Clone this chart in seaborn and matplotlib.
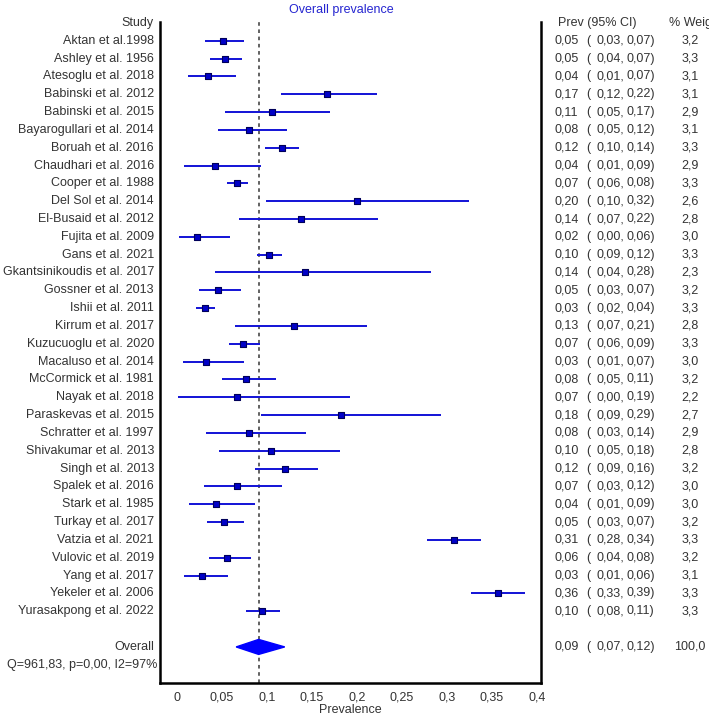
import numpy as np
import pandas as pd
import matplotlib
matplotlib.use("Agg")
import matplotlib.pyplot as plt
import seaborn as sns
from matplotlib.patches import Polygon

studies = [
    "Aktan et al.1998", "Ashley et al. 1956", "Atesoglu et al. 2018",
    "Babinski et al. 2012", "Babinski et al. 2015", "Bayarogullari et al. 2014",
    "Boruah et al. 2016", "Chaudhari et al. 2016", "Cooper et al. 1988",
    "Del Sol et al. 2014", "El-Busaid et al. 2012", "Fujita et al. 2009",
    "Gans et al. 2021", "Gkantsinikoudis et al. 2017", "Gossner et al. 2013",
    "Ishii et al. 2011", "Kirrum et al. 2017", "Kuzucuoglu et al. 2020",
    "Macaluso et al. 2014", "McCormick et al. 1981", "Nayak et al. 2018",
    "Paraskevas et al. 2015", "Schratter et al. 1997", "Shivakumar et al. 2013",
    "Singh et al. 2013", "Spalek et al. 2016", "Stark et al. 1985",
    "Turkay et al. 2017", "Vatzia et al. 2021", "Vulovic et al. 2019",
    "Yang et al. 2017", "Yekeler et al. 2006", "Yurasakpong et al. 2022",
]

# point estimates and CI ends as drawn
prev = [0.051, 0.054, 0.035, 0.167, 0.106, 0.080, 0.117, 0.042, 0.067,
        0.200, 0.138, 0.023, 0.102, 0.143, 0.046, 0.031, 0.130, 0.074,
        0.033, 0.077, 0.067, 0.183, 0.080, 0.105, 0.120, 0.067, 0.044,
        0.052, 0.308, 0.056, 0.028, 0.357, 0.095]
ci_lo = [0.031, 0.037, 0.013, 0.116, 0.054, 0.046, 0.098, 0.008, 0.056,
         0.099, 0.069, 0.003, 0.089, 0.043, 0.025, 0.021, 0.065, 0.058,
         0.007, 0.050, 0.001, 0.094, 0.033, 0.047, 0.087, 0.030, 0.014,
         0.034, 0.278, 0.036, 0.008, 0.327, 0.077]
ci_hi = [0.075, 0.073, 0.066, 0.223, 0.170, 0.122, 0.136, 0.094, 0.079,
         0.325, 0.224, 0.059, 0.117, 0.283, 0.071, 0.043, 0.211, 0.093,
         0.075, 0.110, 0.192, 0.294, 0.144, 0.181, 0.157, 0.117, 0.087,
         0.075, 0.338, 0.082, 0.057, 0.387, 0.115]

# printed table values
tab_prev = [0.05, 0.05, 0.04, 0.17, 0.11, 0.08, 0.12, 0.04, 0.07, 0.20, 0.14,
            0.02, 0.10, 0.14, 0.05, 0.03, 0.13, 0.07, 0.03, 0.08, 0.07, 0.18,
            0.08, 0.10, 0.12, 0.07, 0.04, 0.05, 0.31, 0.06, 0.03, 0.36, 0.10]
tab_lo = [0.03, 0.04, 0.01, 0.12, 0.05, 0.05, 0.10, 0.01, 0.06, 0.10, 0.07,
          0.00, 0.09, 0.04, 0.03, 0.02, 0.07, 0.06, 0.01, 0.05, 0.00, 0.09,
          0.03, 0.05, 0.09, 0.03, 0.01, 0.03, 0.28, 0.04, 0.01, 0.33, 0.08]
tab_hi = [0.07, 0.07, 0.07, 0.22, 0.17, 0.12, 0.14, 0.09, 0.08, 0.32, 0.22,
          0.06, 0.12, 0.28, 0.07, 0.04, 0.21, 0.09, 0.07, 0.11, 0.19, 0.29,
          0.14, 0.18, 0.16, 0.12, 0.09, 0.07, 0.34, 0.08, 0.06, 0.39, 0.11]
weights = [3.2, 3.3, 3.1, 3.1, 2.9, 3.1, 3.3, 2.9, 3.3, 2.6, 2.8, 3.0, 3.3,
           2.3, 3.2, 3.3, 2.8, 3.3, 3.0, 3.2, 2.2, 2.7, 2.9, 2.8, 3.2, 3.0,
           3.0, 3.2, 3.3, 3.2, 3.1, 3.3, 3.3]

overall = [0.091, 0.066, 0.120]       # estimate, lower, upper (diamond)
overall_tab = [0.09, 0.07, 0.12, 100.0]
overall_line = 0.0915
het_text = "Q=961,83, p=0,00, I2=97%"
x_ticks = [0, 0.05, 0.1, 0.15, 0.2, 0.25, 0.3, 0.35, 0.4]
x_ticklabels = ["0", "0,05", "0,1", "0,15", "0,2", "0,25", "0,3", "0,35", "0,4"]


def fmt(v, n=2):
    return f"{v:.{n}f}".replace(".", ",")


sns.set_style("white")
plt.rcParams["font.family"] = ["Liberation Sans", "DejaVu Sans"]
plt.rcParams["font.size"] = 9

df = pd.DataFrame({"study": studies, "prev": prev, "lo": ci_lo, "hi": ci_hi})
df["row"] = np.arange(len(df))

fig = plt.figure(figsize=(7.09, 7.21), dpi=100)
ax = fig.add_axes([160 / 709, 1 - 683.3 / 721, 380.7 / 709, 661.6 / 721])

line_col = "#1212d6"
txt_col = "#333333"

ax.axvline(overall_line, color="#555555", lw=1.3, ls=(0, (2, 2)), zorder=1)
ax.hlines(df["row"], df["lo"], df["hi"], color=line_col, lw=1.4, zorder=2)
sns.scatterplot(data=df, x="prev", y="row", marker="s", s=22, color="#0000c8",
                edgecolor="#00005a", linewidth=0.8, zorder=3, ax=ax, legend=False)

ov_row = len(df) + 1
est, low, up = overall
ax.add_patch(Polygon([(low, ov_row), (est, ov_row - 0.42), (up, ov_row), (est, ov_row + 0.42)],
                     closed=True, facecolor="#0000ff", edgecolor="#0000ff", zorder=3))

ax.set_xlim(-0.0186, 0.4044)
ax.set_ylim(36.04, -1.066)
ax.set_yticks([])
ax.set_xticks(x_ticks)
ax.set_xticklabels(x_ticklabels, color=txt_col)
ax.tick_params(axis="x", length=3, width=0.8, color="#888888", pad=3, labelsize=9)
ax.set_xlabel("Prevalence", color=txt_col, fontsize=9, labelpad=0)
ax.set_ylabel("")

for side in ["left", "right", "bottom"]:
    ax.spines[side].set_color("black")
    ax.spines[side].set_linewidth(1.8)
ax.spines["top"].set_visible(False)

tr = ax.get_yaxis_transform()
kw = dict(transform=tr, va="center", color=txt_col, fontsize=9, clip_on=False)

ax.text(-0.0158, -1, "Study", ha="right", **kw)
ax.text(1.0446, -1, "Prev (95% CI)", ha="left", **kw)
ax.text(1.337, -1, "% Weight", ha="left", **kw)

rows = list(df["row"]) + [ov_row]
labels = studies + ["Overall"]
t_prev = tab_prev + [overall_tab[0]]
t_lo = tab_lo + [overall_tab[1]]
t_hi = tab_hi + [overall_tab[2]]
t_w = weights + [overall_tab[3]]
for r, lab, p, l, h, w in zip(rows, labels, t_prev, t_lo, t_hi, t_w):
    ax.text(-0.0158, r, lab, ha="right", **kw)
    ax.text(1.0358, r, fmt(p), ha="left", **kw)
    ax.text(1.1208, r, "(", ha="left", **kw)
    ax.text(1.1453, r, fmt(l) + ",", ha="left", **kw)
    ax.text(1.2259, r, fmt(h) + ")", ha="left", **kw)
    ax.text(1.3922, r, fmt(w, 1), ha="center", **kw)

ax.text(-0.008, ov_row + 1, het_text, ha="right", **kw)

fig.text(289 / 709, 1 - 10 / 721, "Overall prevalence", ha="left", va="center",
         color="#2525d0", fontsize=9)

plt.savefig("out.png", dpi=100)
plt.close()
